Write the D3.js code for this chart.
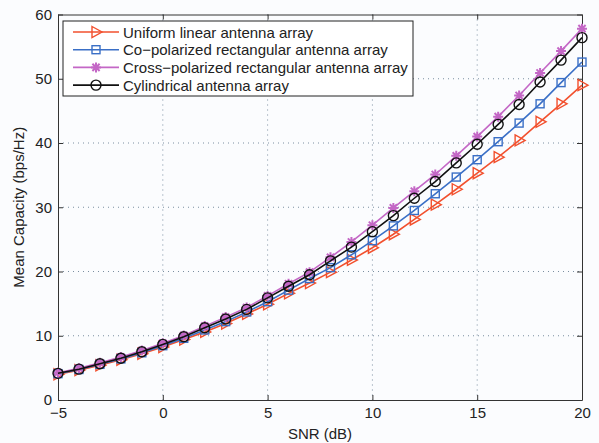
<!DOCTYPE html>
<html>
<head>
<meta charset="utf-8">
<script src="https://cdn.jsdelivr.net/npm/d3@7"></script>
<style>
  body { margin: 0; background: #fbfcfe; }
  svg { display: block; font-family: "Liberation Sans", Arial, sans-serif; }
</style>
</head>
<body>
<svg id="svg" width="599" height="443"></svg>
<script>
// SNR values (dB)
const snr = d3.range(-5, 21);

// mean capacity per array type (bps/Hz)
const ula = [4.0, 4.65, 5.4, 6.25, 7.2, 8.25, 9.4, 10.6, 11.9, 13.4, 14.9, 16.6, 18.2, 19.9, 21.8, 23.7, 25.8, 28.1, 30.4, 32.8, 35.3, 37.8, 40.4, 43.3, 46.1, 49.0];
const coPol = [4.1, 4.75, 5.55, 6.4, 7.35, 8.45, 9.6, 10.9, 12.2, 13.7, 15.3, 17.1, 18.9, 20.6, 22.6, 24.8, 27.1, 29.5, 32.1, 34.7, 37.4, 40.2, 43.1, 46.1, 49.4, 52.6];
const crossPol = [4.25, 4.95, 5.8, 6.7, 7.7, 8.85, 10.05, 11.5, 12.9, 14.4, 16.2, 18.1, 19.9, 22.2, 24.6, 27.2, 29.9, 32.5, 35.1, 38.0, 41.0, 44.1, 47.4, 50.9, 54.3, 57.8];
const cylindrical = [4.15, 4.8, 5.65, 6.5, 7.5, 8.65, 9.85, 11.25, 12.6, 14.1, 15.9, 17.7, 19.5, 21.65, 23.8, 26.2, 28.7, 31.4, 34.0, 36.9, 39.8, 42.9, 46.0, 49.5, 52.9, 56.4];

const xTicks = [-5, 0, 5, 10, 15, 20];
const yTicks = [0, 10, 20, 30, 40, 50, 60];

const seriesNames = [
  "Uniform linear antenna array",
  "Co\u2212polarized rectangular antenna array",
  "Cross\u2212polarized rectangular antenna array",
  "Cylindrical antenna array"
];

const series = [
  { name: seriesNames[0], values: ula, color: "#f2502e", marker: "tri" },
  { name: seriesNames[1], values: coPol, color: "#3a6fc6", marker: "square" },
  { name: seriesNames[2], values: crossPol, color: "#c467c6", marker: "star" },
  { name: seriesNames[3], values: cylindrical, color: "#111111", marker: "circle" }
];

const svg = d3.select("#svg");
const pLeft = 58, pRight = 582, pTop = 14.5, pBottom = 400;
const fs = 15;

const x = d3.scaleLinear().domain([-5, 20]).range([pLeft, pRight]);
const y = d3.scaleLinear().domain([0, 60]).range([pBottom, pTop]);

// dotted grid
const grid = svg.append("g").attr("stroke", "#7a8ea0").attr("stroke-width", 1)
  .attr("stroke-dasharray", "1,4");
grid.selectAll(".gx").data(xTicks.slice(1, -1)).join("line").attr("class", "gx")
  .attr("x1", d => x(d)).attr("x2", d => x(d)).attr("y1", pTop).attr("y2", pBottom);
grid.selectAll(".gy").data(yTicks.slice(1, -1)).join("line").attr("class", "gy")
  .attr("y1", d => y(d)).attr("y2", d => y(d)).attr("x1", pLeft).attr("x2", pRight);

// axes, matlab style: ticks inward on all sides
const tick = 5;
const xAxis = d3.axisBottom(x).tickValues(xTicks).tickSizeInner(-tick).tickSizeOuter(0)
  .tickPadding(7).tickFormat(d => d < 0 ? "\u2212" + Math.abs(d) : d);
const yAxis = d3.axisLeft(y).tickValues(yTicks).tickSizeInner(-tick).tickSizeOuter(0)
  .tickPadding(6);

function styleAxis(g) {
  g.select(".domain").attr("stroke", "#333");
  g.selectAll(".tick line").attr("stroke", "#333");
  g.selectAll("text").attr("font-size", fs).attr("fill", "#222")
    .attr("font-family", "Liberation Sans, Arial, sans-serif");
}

svg.append("g").attr("transform", `translate(0,${pBottom})`).call(xAxis).call(styleAxis);
svg.append("g").attr("transform", `translate(${pLeft},0)`).call(yAxis).call(styleAxis);
svg.append("g").attr("transform", `translate(0,${pTop})`)
  .call(d3.axisTop(x).tickValues(xTicks).tickSizeInner(-tick).tickSizeOuter(0).tickFormat(""))
  .call(styleAxis);
svg.append("g").attr("transform", `translate(${pRight},0)`)
  .call(d3.axisRight(y).tickValues(yTicks).tickSizeInner(-tick).tickSizeOuter(0).tickFormat(""))
  .call(styleAxis);

// markers
function drawMarker(g, type, color) {
  if (type === "tri") {
    g.append("path").attr("d", "M-4,-5.5L6,0L-4,5.5Z")
      .attr("fill", "none").attr("stroke", color).attr("stroke-width", 1.4);
  } else if (type === "square") {
    g.append("rect").attr("x", -4).attr("y", -4).attr("width", 8).attr("height", 8)
      .attr("fill", "none").attr("stroke", color).attr("stroke-width", 1.4);
  } else if (type === "star") {
    g.append("path").attr("d", "M-5,0H5M0,-5V5M-3.6,-3.6L3.6,3.6M-3.6,3.6L3.6,-3.6")
      .attr("stroke", color).attr("stroke-width", 2);
  } else {
    g.append("circle").attr("r", 5)
      .attr("fill", "none").attr("stroke", color).attr("stroke-width", 1.4);
  }
}

const line = d3.line().x((d, i) => x(snr[i])).y(d => y(d));

series.forEach(s => {
  const g = svg.append("g");
  g.append("path").datum(s.values).attr("d", line)
    .attr("fill", "none").attr("stroke", s.color).attr("stroke-width", 1.6);
  g.selectAll("g.m").data(s.values).join("g").attr("class", "m")
    .attr("transform", (d, i) => `translate(${x(snr[i])},${y(d)})`)
    .each(function () { drawMarker(d3.select(this), s.marker, s.color); });
});

// axis labels
svg.append("text").attr("x", (pLeft + pRight) / 2).attr("y", 439)
  .attr("text-anchor", "middle").attr("font-size", fs).attr("fill", "#222")
  .text("SNR (dB)");
svg.append("text").attr("transform", `translate(24,${(pTop + pBottom) / 2}) rotate(-90)`)
  .attr("text-anchor", "middle").attr("font-size", fs).attr("fill", "#222")
  .text("Mean Capacity (bps/Hz)");

// legend
const lg = svg.append("g").attr("transform", "translate(63,21)");
lg.append("rect").attr("width", 350).attr("height", 75)
  .attr("fill", "#fff").attr("stroke", "#222").attr("stroke-width", 1);
series.forEach((s, i) => {
  const row = lg.append("g").attr("transform", `translate(0,${11 + i * 17.7})`);
  row.append("line").attr("x1", 10).attr("x2", 56)
    .attr("stroke", s.color).attr("stroke-width", 1.6);
  drawMarker(row.append("g").attr("transform", "translate(33,0)"), s.marker, s.color);
  row.append("text").attr("x", 60).attr("y", 5.5).attr("font-size", fs).attr("fill", "#222")
    .text(s.name);
});
</script>
</body>
</html>
